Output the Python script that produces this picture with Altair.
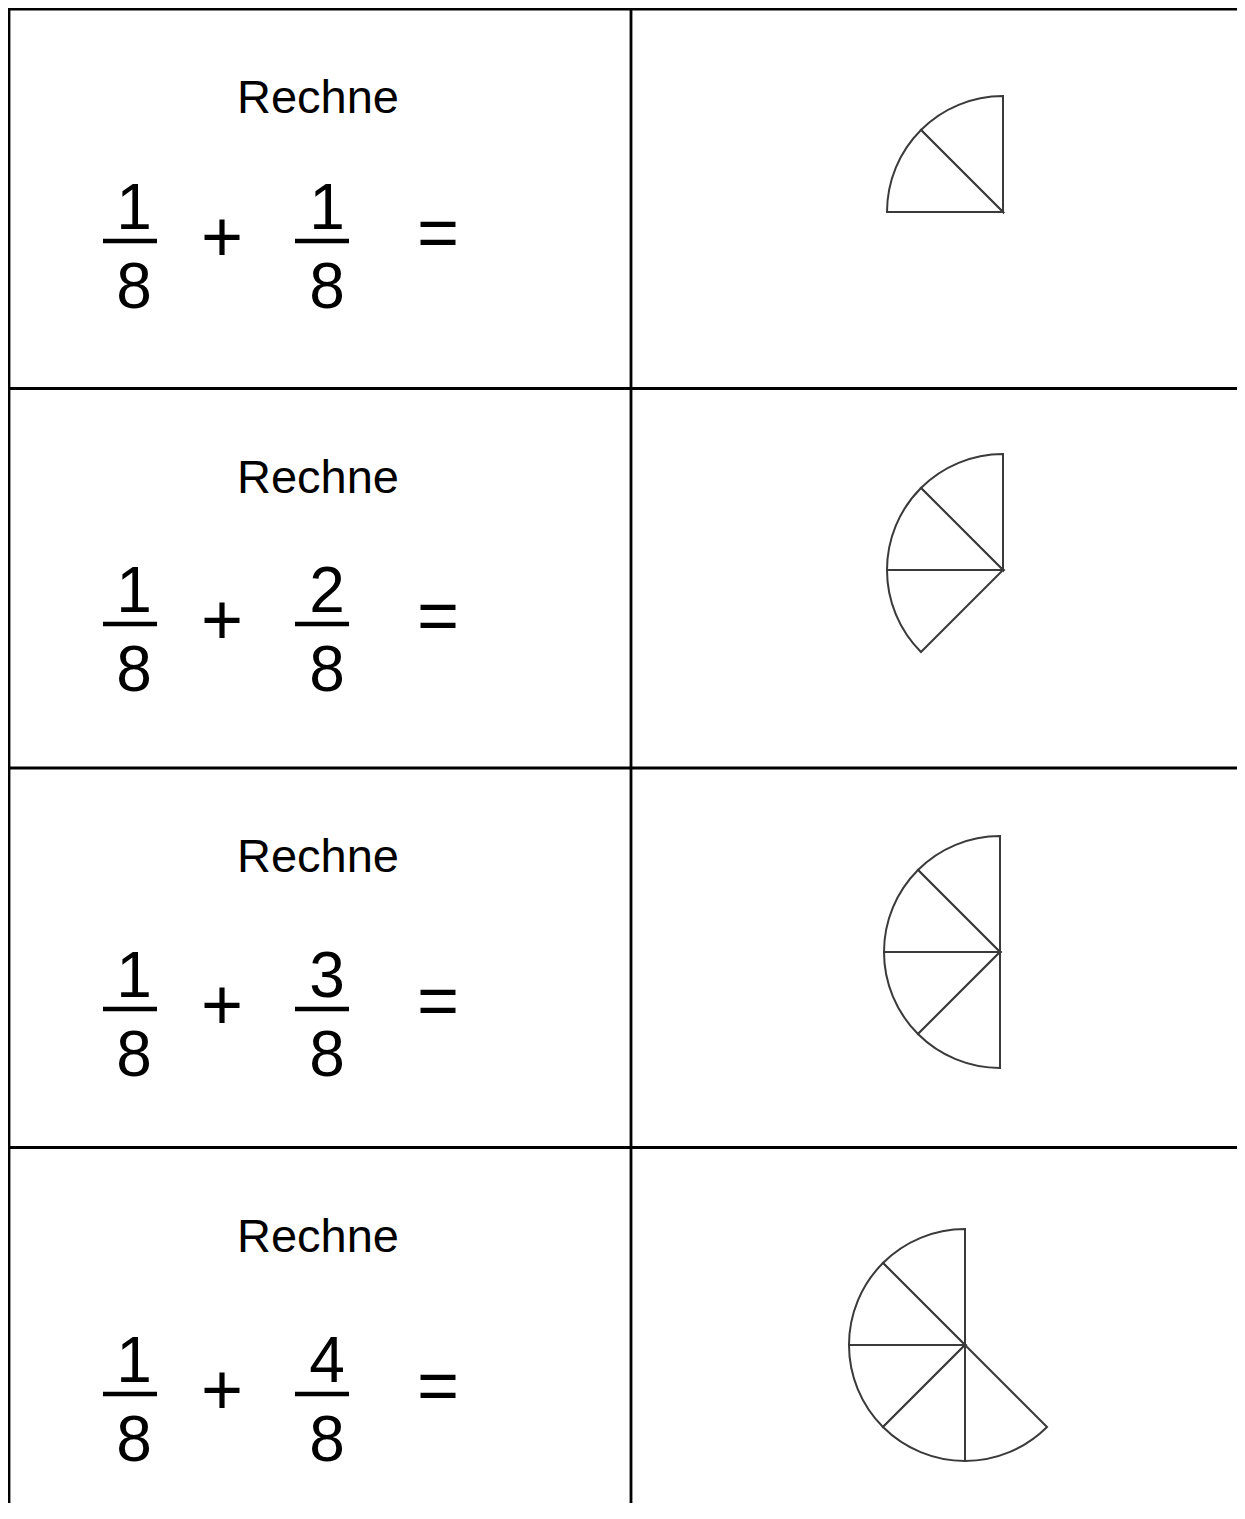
import math
import altair as alt
import pandas as pd

# ---------------- data (read from the worksheet) ----------------
ROW_IDS = [0, 1, 2, 3]
PROMPT = ["Rechne", "Rechne", "Rechne", "Rechne"]
FIRST_NUM = [1, 1, 1, 1]
FIRST_DEN = [8, 8, 8, 8]
SECOND_NUM = [1, 2, 3, 4]
SECOND_DEN = [8, 8, 8, 8]
OPERATORS = ["+", "="]
SLICES_SHOWN = [2, 3, 4, 5]     # eighths drawn in each pie
PIE_PARTS = 8                   # a whole pie = 8 eighths

# ---------------- layout (chart pixels) ----------------
W, H = 1229, 1495
ROW_H = 379.5
TOP = 1.0
COL_SPLIT = 623
LEFT = 1.0
PROMPT_X, PROMPT_DY = 310, 104
F1_X, F2_X = 126, 319
BAR1 = (95, 149)
BAR2 = (287, 341)
PLUS_X, EQ_X = 214, 430
EXPR_DY = [221, 224.5, 230, 235.5]     # numerator baseline per row
PIE_CX = [995, 995, 992, 957]
PIE_DY = [203, 181.5, 184, 197.5]
PIE_R = 116

def row_top(i):
    return TOP + i * ROW_H

# ---------------- tables ----------------
grid = []
for i in range(len(ROW_IDS) + 1):
    grid.append(dict(x=-2, x2=W + 2, y=row_top(i), y2=row_top(i)))
grid.append(dict(x=LEFT, x2=LEFT, y=0, y2=H + 2))
grid.append(dict(x=COL_SPLIT, x2=COL_SPLIT, y=0, y2=H + 2))
grid_df = pd.DataFrame(grid)

prompt_df = pd.DataFrame(
    [dict(x=PROMPT_X, y=row_top(i) + PROMPT_DY, t=PROMPT[i]) for i in ROW_IDS]
)

digits, bars, ops = [], [], []
for i in ROW_IDS:
    base = row_top(i) + EXPR_DY[i]
    digits += [
        dict(x=F1_X, y=base - 1, t=str(FIRST_NUM[i])),
        dict(x=F1_X, y=base + 78, t=str(FIRST_DEN[i])),
        dict(x=F2_X, y=base - 1, t=str(SECOND_NUM[i])),
        dict(x=F2_X, y=base + 78, t=str(SECOND_DEN[i])),
    ]
    bars += [
        dict(x=BAR1[0], x2=BAR1[1], y=base + 11, y2=base + 11),
        dict(x=BAR2[0], x2=BAR2[1], y=base + 11, y2=base + 11),
    ]
    ops += [
        dict(x=PLUS_X, y=base + 31, t=OPERATORS[0]),
        dict(x=EQ_X, y=base + 27, t=OPERATORS[1]),
    ]
digits_df = pd.DataFrame(digits)
bars_df = pd.DataFrame(bars)
ops_df = pd.DataFrame(ops)

slices = []
for i in ROW_IDS:
    for k in range(SLICES_SHOWN[i]):
        slices.append(dict(cx=PIE_CX[i], cy=row_top(i) + PIE_DY[i], s=k, s2=k + 1))
slices_df = pd.DataFrame(slices)

# ---------------- scales ----------------
xs = alt.Scale(domain=[0, W], nice=False, zero=False)
ys = alt.Scale(domain=[0, H], nice=False, zero=False, reverse=True)
ts = alt.Scale(domain=[0, PIE_PARTS], range=[2 * math.pi, 0], zero=False, nice=False)

def X(f="x"):
    return alt.X(f"{f}:Q", scale=xs, axis=None)

def Y(f="y"):
    return alt.Y(f"{f}:Q", scale=ys, axis=None)

grid_layer = alt.Chart(grid_df).mark_rule(color="black", strokeWidth=2.8).encode(
    x=X(), x2="x2:Q", y=Y(), y2="y2:Q"
)

prompt_layer = alt.Chart(prompt_df).mark_text(
    font="Liberation Sans", fontSize=47, align="center", baseline="alphabetic", color="black"
).encode(x=X(), y=Y(), text="t:N")

digit_layer = alt.Chart(digits_df).mark_text(
    font="Liberation Sans", fontSize=64, align="center", baseline="alphabetic", color="black"
).encode(x=X(), y=Y(), text="t:N")

bar_layer = alt.Chart(bars_df).mark_rule(color="black", strokeWidth=4.5).encode(
    x=X(), x2="x2:Q", y=Y(), y2="y2:Q"
)

op_layer = alt.Chart(ops_df).mark_text(
    font="Liberation Sans", fontSize=72, align="center", baseline="alphabetic", color="black"
).encode(x=X(), y=Y(), text="t:N")

pie_layer = alt.Chart(slices_df).mark_arc(
    radius=PIE_R, fill="white", stroke="#3a3a3a", strokeWidth=2
).encode(
    x=X("cx"), y=Y("cy"),
    theta=alt.Theta("s:Q", scale=ts),
    theta2="s2:Q",
)

chart = alt.layer(
    grid_layer, prompt_layer, digit_layer, bar_layer, op_layer, pie_layer
).properties(
    width=W, height=H, padding=0, autosize=alt.AutoSizeParams(type="none"),
    background="white",
).configure_view(stroke="transparent")

chart.save("out.html", embed_options={"renderer": "svg", "actions": False})
